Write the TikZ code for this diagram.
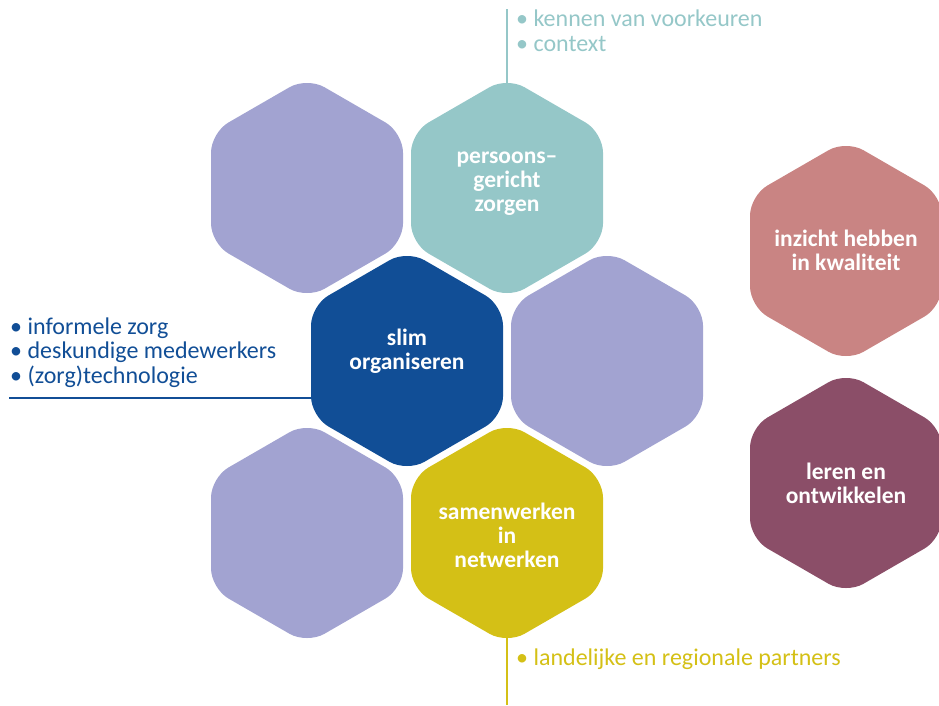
\documentclass[tikz,border=0pt]{standalone}
\usepackage{fontspec}
\setmainfont{Carlito}
\usetikzlibrary{backgrounds}
\definecolor{hpurple}{HTML}{A2A3D1}
\definecolor{hteal}{HTML}{95C7C8}
\definecolor{hblue}{HTML}{114E96}
\definecolor{hyellow}{HTML}{D4C016}
\definecolor{hpink}{HTML}{C98483}
\definecolor{hmaroon}{HTML}{8B4E68}
\newcommand\hexfill[2]{\fill[#1, rounded corners=20pt] (#2) ++(-96,0) -- ++(0,55.43) -- ++(96,55.43) -- ++(96,-55.43) -- ++(0,-110.86) -- ++(-96,-55.43) -- ++(-96,55.43) -- cycle;}
\begin{document}
\begin{tikzpicture}[x=1pt,y=-1pt,
  lbl/.style={text=white, align=center, inner sep=0pt,
    font=\bfseries\fontsize{23.5}{24}\selectfont},
  lst/.style={font=\fontsize{24}{24.5}\selectfont, align=left, inner sep=0pt, anchor=base west},
  conn/.style={line width=1.3pt}]
\useasboundingbox (0,0) rectangle (939,705);
% hexagon centres
\coordinate (h1) at (307,188);
\coordinate (h2) at (507,188);
\coordinate (h3) at (407,361);
\coordinate (h4) at (607,361);
\coordinate (h5) at (307,533);
\coordinate (h6) at (507,533);
\coordinate (h7) at (846,251);
\coordinate (h8) at (846,483);
\hexfill{hpurple}{h1}
\hexfill{hteal}{h2}
\hexfill{hblue}{h3}
\hexfill{hpurple}{h4}
\hexfill{hpurple}{h5}
\hexfill{hyellow}{h6}
\hexfill{hpink}{h7}
\hexfill{hmaroon}{h8}
% labels
\node[lbl] (pz) at (507,184) {persoons–\\gericht\\zorgen};
\node[lbl] (so) at (407,351) {slim\\organiseren};
\node[lbl] (sw) at (507,535) {samenwerken\\in\\netwerken};
\node[lbl] (ik) at (846,250) {inzicht hebben\\in kwaliteit};
\node[lbl] (lo) at (846,483) {leren en\\ontwikkelen};
% bullet lists
\node[lst, text=hteal] (kv) at (516,51) {• kennen van voorkeuren\\• context};
\node[lst, text=hblue] (iz) at (10,383) {• informele zorg\\• deskundige medewerkers\\• (zorg)technologie};
\node[lst, text=hyellow] (lr) at (516,665) {• landelijke en regionale partners};
% connectors
\coordinate (ct) at (507,9);
\coordinate (cb) at (9,398);
\coordinate (cy) at (507,705);
\begin{scope}[on background layer]
\draw[conn, hteal] (ct) -- (h2);
\draw[conn, hblue] (cb) -- (cb -| h3);
\draw[conn, hyellow] (h6) -- (cy);
\end{scope}
\end{tikzpicture}
\end{document}
